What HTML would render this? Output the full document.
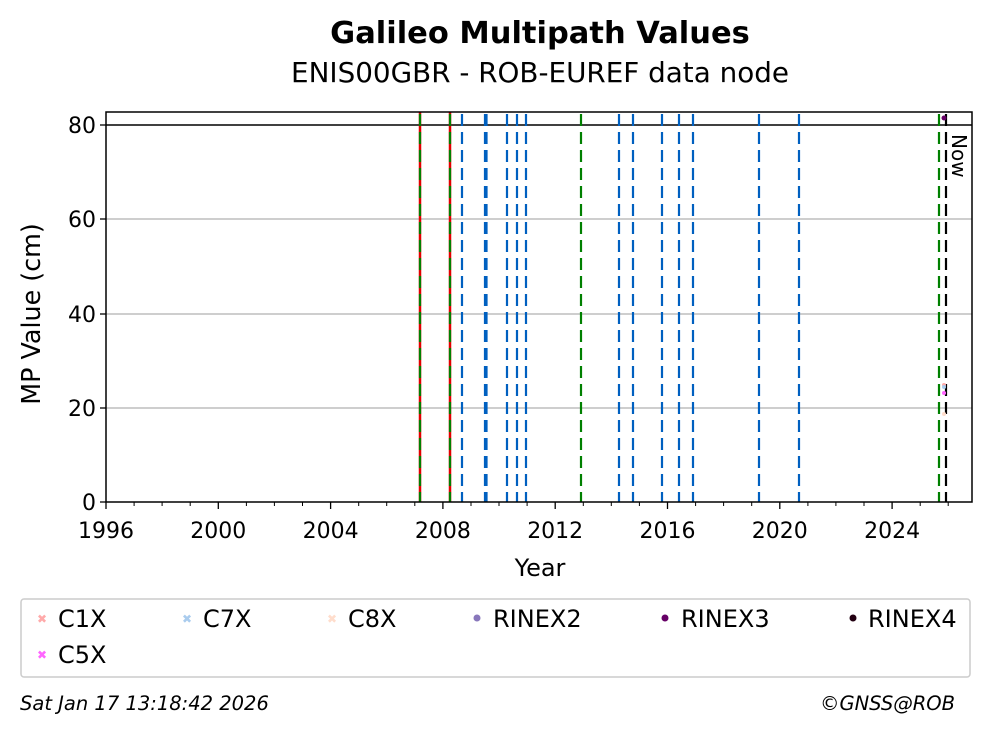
<!DOCTYPE html>
<html><head><meta charset="utf-8"><style>
body{margin:0;background:#fff;}
svg text{font-family:"DejaVu Sans","Liberation Sans",sans-serif;}
</style></head><body>
<svg width="992" height="734" viewBox="0 0 992 734" xmlns="http://www.w3.org/2000/svg">
<rect width="992" height="734" fill="#fff"/>
<text x="540" y="43" font-size="30.5" font-weight="bold" text-anchor="middle">Galileo Multipath Values</text>
<text x="540" y="82" font-size="27.8" text-anchor="middle">ENIS00GBR - ROB-EUREF data node</text>
<g stroke="#b0b0b0" stroke-width="1.2">
<line x1="106" y1="219" x2="972" y2="219"/>
<line x1="106" y1="314" x2="972" y2="314"/>
<line x1="106" y1="408" x2="972" y2="408"/>
</g>
<line x1="106" y1="125" x2="972" y2="125" stroke="#000" stroke-width="1.5"/>
<g stroke="#e00000" stroke-width="2.5">
<line x1="420" y1="112" x2="420" y2="502"/>
<line x1="450" y1="112" x2="450" y2="502"/>
</g>
<g stroke="#0060c0" stroke-width="2.2" stroke-dasharray="12,6">
<line x1="462" y1="114" x2="462" y2="502"/>
<line x1="485" y1="114" x2="485" y2="502"/>
<line x1="486.5" y1="114" x2="486.5" y2="502"/>
<line x1="507" y1="114" x2="507" y2="502"/>
<line x1="517" y1="114" x2="517" y2="502"/>
<line x1="526" y1="114" x2="526" y2="502"/>
<line x1="619" y1="114" x2="619" y2="502"/>
<line x1="633" y1="114" x2="633" y2="502"/>
<line x1="662" y1="114" x2="662" y2="502"/>
<line x1="679" y1="114" x2="679" y2="502"/>
<line x1="693" y1="114" x2="693" y2="502"/>
<line x1="759" y1="114" x2="759" y2="502"/>
<line x1="799" y1="114" x2="799" y2="502"/>
</g>
<g stroke="#008000" stroke-width="2.2" stroke-dasharray="12,6">
<line x1="420" y1="114" x2="420" y2="502"/>
<line x1="450" y1="114" x2="450" y2="502"/>
<line x1="581" y1="114" x2="581" y2="502"/>
<line x1="939" y1="114" x2="939" y2="502"/>
</g>
<line x1="946" y1="114" x2="946" y2="502" stroke="#000" stroke-width="2.2" stroke-dasharray="12,6"/>
<circle cx="944" cy="118" r="2.5" fill="#660066"/>
<circle cx="944" cy="385" r="2" fill="#ffaaaa"/>
<circle cx="944" cy="387" r="2" fill="#aaccee"/>
<circle cx="944" cy="393" r="2" fill="#ff66ff"/>
<circle cx="944" cy="414" r="2" fill="#ffddcc"/>
<text x="952" y="134" font-size="20" transform="rotate(90 952 134)">Now</text>
<rect x="106" y="112" width="866" height="390" fill="none" stroke="#000" stroke-width="1.5"/>
<g stroke="#000" stroke-width="1.3">
<line x1="100" y1="502" x2="106" y2="502"/>
<line x1="100" y1="408" x2="106" y2="408"/>
<line x1="100" y1="314" x2="106" y2="314"/>
<line x1="100" y1="219" x2="106" y2="219"/>
<line x1="100" y1="125" x2="106" y2="125"/>
</g>
<g font-size="22" text-anchor="end">
<text x="96" y="510">0</text>
<text x="96" y="416">20</text>
<text x="96" y="322">40</text>
<text x="96" y="227">60</text>
<text x="96" y="133">80</text>
</g>
<text x="40" y="314" font-size="25.4" text-anchor="middle" transform="rotate(-90 40 314)">MP Value (cm)</text>
<g stroke="#000" stroke-width="1.3">
<line x1="106" y1="502" x2="106" y2="509"/>
<line x1="218.3" y1="502" x2="218.3" y2="509"/>
<line x1="330.6" y1="502" x2="330.6" y2="509"/>
<line x1="442.9" y1="502" x2="442.9" y2="509"/>
<line x1="555.2" y1="502" x2="555.2" y2="509"/>
<line x1="667.5" y1="502" x2="667.5" y2="509"/>
<line x1="779.8" y1="502" x2="779.8" y2="509"/>
<line x1="892.1" y1="502" x2="892.1" y2="509"/>
</g>
<g stroke="#000" stroke-width="1">
<path d="M134.1 502v4M162.1 502v4M190.2 502v4M246.4 502v4M274.4 502v4M302.5 502v4M358.7 502v4M386.7 502v4M414.8 502v4M471 502v4M499 502v4M527.1 502v4M583.3 502v4M611.3 502v4M639.4 502v4M695.6 502v4M723.6 502v4M751.7 502v4M807.9 502v4M835.9 502v4M864 502v4M920.2 502v4M948.2 502v4"/>
</g>
<g font-size="22" text-anchor="middle">
<text x="106" y="538">1996</text>
<text x="218.3" y="538">2000</text>
<text x="330.6" y="538">2004</text>
<text x="442.9" y="538">2008</text>
<text x="555.2" y="538">2012</text>
<text x="667.5" y="538">2016</text>
<text x="779.8" y="538">2020</text>
<text x="892.1" y="538">2024</text>
</g>
<text x="540" y="576" font-size="24" text-anchor="middle">Year</text>
<rect x="21" y="599" width="949" height="78" rx="3" fill="#fff" stroke="#cccccc" stroke-width="1.5"/>
<g font-size="24">
<text x="37" y="623" font-size="12" fill="#ffaaaa">✖</text><text x="58" y="627">C1X</text>
<text x="182" y="623" font-size="12" fill="#aaccee">✖</text><text x="203" y="627">C7X</text>
<text x="327" y="623" font-size="12" fill="#ffddcc">✖</text><text x="348" y="627">C8X</text>
<circle cx="477" cy="618" r="3.5" fill="#8877bb"/><text x="493" y="627">RINEX2</text>
<circle cx="665" cy="618" r="3.5" fill="#660066"/><text x="681" y="627">RINEX3</text>
<circle cx="853" cy="618" r="3.5" fill="#220011"/><text x="868" y="627">RINEX4</text>
<text x="37" y="659" font-size="12" fill="#ff66ff">✖</text><text x="58" y="663">C5X</text>
</g>
<text x="20" y="710" font-size="19.5" font-style="italic">Sat Jan 17 13:18:42 2026</text>
<text x="955" y="710" font-size="19.5" font-style="italic" text-anchor="end">©GNSS@ROB</text>
</svg>
</body></html>
